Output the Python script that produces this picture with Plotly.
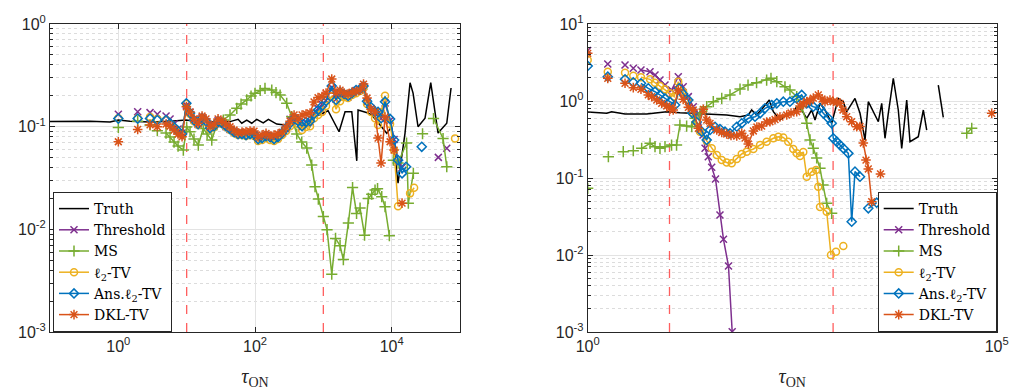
import plotly.graph_objects as go

# ---------------- data: left panel ----------------
L_TRUTH_X = [0.1, 0.196, 0.385, 0.757, 1.0, 1.48, 2.91, 5.71, 9.8, 15.7,
             43.1, 56.5, 64, 75.7, 89.6, 106, 132, 157, 208, 275,
             345, 639, 757, 1173, 1698, 2080, 2606, 3085, 3222, 4511,
             5108, 6758, 8472, 10020, 12390, 15690, 18580, 20560, 24320, 30790,
             37320, 47750, 64000, 73960]
L_TRUTH_Y = [0.112, 0.112, 0.113, 0.111, 0.116, 0.113, 0.111, 0.113, 0.116, 0.111,
             0.112, 0.118, 0.108, 0.116, 0.108, 0.118, 0.109, 0.118, 0.106, 0.104,
             0.108, 0.0998, 0.125, 0.143, 0.0892, 0.140, 0.140, 0.0465, 0.145, 0.136,
             0.130, 0.104, 0.0861, 0.0998, 0.0282, 0.0866, 0.268, 0.212, 0.0998, 0.121,
             0.268, 0.0866, 0.108, 0.238]

L_X = [1, None, 1.92, None, 2.91, None, 3.72, None, 4.99,
       5.71, 6.54, 7.48, 8.56, 9.9, 11.2, 12.8, 14.7, 16.8, 19.2,
       22.0, 25.2, 28.8, 32.9, 37.7, 43.1, 49.4, 56.5, 64.6, 73.9,
       84.6, 96.8, 111, 127, 145, 166, 190, 217, 249, 285,
       326, 373, 427, 488, 558, 639, 731, 837, 958, 1096,
       1328, 1535, 1757, 2010, 2301, 2632, 3013, 3447, 3875, 4363,
       4990, 5711, 6322, 6998, 8000, 9472, 10840, 12400, 14190, 16240]

L_THR_Y = [0.132, None, 0.140, None, 0.137, None, 0.132, None, 0.127,
           0.119, 0.106, 0.0948, 0.0867, 0.162, 0.138, 0.117, 0.105, 0.122, 0.112,
           0.098, 0.102, 0.114, 0.107, 0.100, 0.094, 0.089, 0.085, 0.084, 0.083,
           0.085, 0.084, 0.076, 0.078, 0.082, 0.080, 0.077, 0.080, 0.087, 0.095,
           0.118, 0.122, 0.112, 0.100, 0.110, 0.112, 0.135, 0.150, 0.165, 0.180,
           0.240, 0.185, 0.215, 0.205, 0.195, 0.210, 0.225, 0.230, 0.245, 0.175,
           0.150, 0.140, 0.135, 0.120, 0.170, 0.115, 0.075, 0.045, 0.040, None]
L_THR_EX_X = [48200, None, 64000]
L_THR_EX_Y = [0.0502, None, 0.0615]

L_L2_Y = [0.121, None, 0.121, None, 0.124, None, 0.119, None, 0.116,
          0.106, 0.0969, 0.0886, 0.0829, 0.166, 0.133, 0.113, 0.104, 0.119, 0.111,
          0.0948, 0.0991, 0.111, 0.106, 0.0991, 0.0927, 0.0867, 0.0829, 0.0829, 0.0810,
          0.0829, 0.0810, 0.0724, 0.0740, 0.0774, 0.0740, 0.0724, 0.0757, 0.0829, 0.0906,
          0.101, 0.113, 0.106, 0.0927, 0.0991, 0.101, 0.121, 0.130, 0.139, 0.159,
          0.199, 0.148, 0.177, 0.194, 0.190, 0.203, 0.212, 0.222, 0.238, 0.166,
          0.139, 0.121, 0.104, 0.139, 0.200, 0.106, 0.0591, 0.0168, None, None]
L_L2_EX_X = [18580, 21300, None, 84600]
L_L2_EX_Y = [0.0224, 0.0254, None, 0.0769]

L_ANS_Y = [0.120, None, 0.120, None, 0.120, None, 0.116, None, 0.116,
           0.108, 0.0991, 0.0906, 0.0848, 0.169, 0.136, 0.116, 0.106, 0.121, 0.113,
           0.0969, 0.101, 0.113, 0.108, 0.101, 0.0948, 0.0886, 0.0848, 0.0848, 0.0829,
           0.0848, 0.0848, 0.0757, 0.0774, 0.0810, 0.0792, 0.0757, 0.0792, 0.0867, 0.0969,
           0.108, 0.121, 0.113, 0.101, 0.111, 0.113, 0.133, 0.145, 0.159, 0.178,
           0.249, 0.182, 0.217, 0.208, 0.199, 0.212, 0.227, 0.232, 0.249, 0.177,
           0.155, 0.139, 0.139, 0.121, 0.175, 0.119, 0.0740, 0.0472, 0.0351, 0.0407]
L_ANS_EX_X = [27560]
L_ANS_EX_Y = [0.0637]

L_DKL_Y = [0.0713, None, 0.0941, None, 0.104, None, 0.0998, None, 0.106,
           0.101, 0.0927, 0.0848, 0.0797, 0.156, 0.139, 0.119, 0.108, 0.127, 0.119,
           0.101, 0.106, 0.119, 0.113, 0.106, 0.0998, 0.0927, 0.0873, 0.0886, 0.0892,
           0.0906, 0.0906, 0.0797, 0.0829, 0.0861, 0.0810, 0.0829, 0.0848, 0.0886, 0.0991,
           0.113, 0.130, 0.119, 0.130, 0.133, 0.136, 0.174, 0.192, 0.196, 0.212,
           0.291, 0.212, 0.227, 0.212, 0.208, 0.217, 0.220, 0.227, 0.260, 0.190,
           0.148, 0.139, 0.0774, 0.0442, 0.124, 0.0713, 0.0591, None, 0.0180, None]

L_MS_X = [1, None, 1.92, None, 2.91, None, 3.72, None, 4.99, 5.71, 6.54, 7.48, 8.94,
          10.0, 11.2, 12.8, 14.8, 17.5, 19.9, 23.3, 27.5, 34.4, 43.1,
          54.1, 62.5, 75.7, 87.5, 100, 119, 140, 176, 203, 233,
          291, 345, 408, 483, 572, 676, 756, 845, 1000, 1133,
          1328, 1509, 1757, 1964, 2323, 2677, 3064, 3447, 4009, 4558,
          5109, 5711, 6212, 7157, 8000, 9252, None, 10580, 12400, 16510,
          17540, 20760, None, 28300, None, 41000, 56500, 64000]
L_MS_Y = [0.0984, None, 0.113, None, 0.104, None, 0.0912, None, 0.0867, 0.0792, 0.0708, 0.0647, 0.0591,
          0.0991, 0.0892, 0.0757, 0.0662, 0.0962, 0.0848, 0.0740, 0.104, 0.116, 0.130,
          0.151, 0.166, 0.182, 0.199, 0.211, 0.225, 0.236, 0.227, 0.215, 0.203,
          0.169, 0.125, 0.0848, 0.0708, 0.0619, 0.0423, 0.0260, 0.0197, 0.0133, 0.00993,
          0.00366, 0.00815, 0.00693, 0.00507, 0.0115, 0.0255, 0.0143, 0.0161, 0.00878, 0.0200,
          0.0220, 0.0241, 0.0249, 0.0208, 0.0166, 0.00868, None, 0.0472, 0.0442, 0.0692,
          0.0180, 0.0351, None, 0.0853, None, 0.120, 0.0766, 0.0407]

# ---------------- data: right panel ----------------
R_TRUTH_X = [1, 1.71, 1.96, 2.86, 5.26, 9.25, 13.4, 23.6, 37.8, 50.1,
             72.8, 91.9, 101, 116, 134, 166, 186, 224, 271, 326,
             359, 413, 476, 547, 601, 692, 796, 961, 1158, 1333,
             1467, 1852, 2133, 2456, 2694, 3099, 3573, 3928, 4310, 4729,
             5444, 6266, 6898, 7940, 8713, 11000, 12680, 13940, None, 19330, 22230]
R_TRUTH_Y = [0.720, 0.692, 0.726, 0.678, 0.678, 0.726, 0.705, 0.678, 0.658, 0.658,
             0.625, 0.658, 0.764, 0.658, 0.780, 1.03, 0.726, 0.566, 0.658, 0.726,
             0.843, 0.764, 0.596, 0.764, 0.566, 0.933, 0.764, 0.513, 1.08, 0.979,
             0.726, 1.08, 0.692, 0.312, 0.979, 0.726, 0.538, 0.933, 0.328, 0.692,
             1.97, 0.764, 0.243, 1.03, 0.296, 0.344, 0.764, 0.420, None, 1.61, 0.614]

R_THR_X = [1, None, 1.76, None, 2.86, None, 3.61, None,
           4.48, 5.78, 6.65, 7.65, 8.81, 10.6, 12.8, 14.7, 17.0, 19.5,
           22.5, 25.7, 27.2, 29.8, 32.8, 36.5, 41.4, 45.7, 52.6, 58.4]
R_THR_Y = [4.53, None, 3.03, None, 2.94, None, 2.66, None,
           2.53, 2.40, 2.18, 1.87, 1.61, 1.39, 2.07, 1.53, 1.14, 0.843,
           0.692, 0.362, 0.243, 0.189, 0.138, 0.0970, 0.0330, 0.0160, 0.00719, 0.00101]

R_MS_X = [1, None, 1.79, None, 2.72, None, 3.61, None,
          4.57, 5.78, 6.65, 7.65, 8.81, 10.6, 12.2, 13.4, 16.2, 18.7,
          20.5, 23.6, 28.5, 34.3, 43.5, 54.9, 72.8, 91.2, 116, 154,
          174, 205, 258, 297, 359, 413, 476, 522, 573, 630,
          692, 753, 835, 961, None, 43000, 49500]
R_MS_Y = [0.0735, None, 0.189, None, 0.220, None, 0.226, None,
          0.243, 0.282, 0.255, 0.243, 0.255, 0.268, 0.268, 0.488, 0.473, 0.463,
          0.596, 0.698, 0.843, 0.979, 1.08, 1.20, 1.43, 1.61, 1.73, 1.87,
          1.97, 1.78, 1.53, 1.39, 1.14, 0.843, 0.513, 0.312, 0.243, 0.182,
          0.134, 0.0811, 0.0469, 0.0348, None, 0.381, 0.442]

R_L2_X = [1, None, 1.76, None, 2.86, None, 3.61, None,
          4.48, 5.78, 6.65, 7.65, 8.81, 10.1, 11.4, 12.8, 14.7, 16.7,
          18.8, 21.1, 23.6, 28.5, 32.8, 37.8, 43.5, 50.0, 57.6, 66.4,
          76.4, 87.9, 106, 128, 154, 186, 214, 246, 283, 326,
          359, 394, 432, 476, 547, 618, 659, 692, 835, 942,
          None, 1084, None, 1333]
R_L2_Y = [3.41, None, 2.40, None, 2.33, None, 2.13, None,
          2.03, 1.91, 1.73, 1.57, 1.42, 1.26, 1.14, 1.78, 1.32, 1.03,
          0.720, 0.533, 0.399, 0.303, 0.243, 0.199, 0.171, 0.159, 0.155, 0.177,
          0.205, 0.220, 0.238, 0.268, 0.296, 0.328, 0.344, 0.336, 0.296, 0.238,
          0.209, 0.193, 0.218, 0.104, 0.121, 0.127, 0.0771, 0.0420, 0.0365, 0.0100,
          None, 0.0110, None, 0.0131]

R_ANS_X = [1, None, 1.76, None, 2.86, None, 3.61, None,
           4.48, 5.50, 6.65, 7.65, 8.81, 10.1, 11.7, 13.1, 14.7, 17.0,
           19.0, 21.5, 24.8, 28.5, 31.3, 36.0, 41.4, 47.7, 54.9, 66.4,
           76.4, 91.9, 111, 128, 147, 178, 205, 246, 297, 359,
           413, 476, 573, 692, 759, 874, 961, 1005, 1107, 1214,
           1333, 1535, 1688, 1852, 2133, None, 2694, 3411]
R_ANS_Y = [2.85, None, 2.07, None, 1.91, None, 1.75, None,
           1.70, 1.46, 1.32, 1.20, 1.08, 0.979, 0.887, 1.46, 1.23, 1.03,
           0.698, 0.533, 0.399, 0.312, 0.420, 0.463, 0.433, 0.399, 0.381, 0.463,
           0.513, 0.596, 0.625, 0.692, 0.803, 0.887, 0.933, 0.979, 0.979, 1.08,
           1.20, 0.933, 0.843, 0.803, 0.692, 0.596, 0.513, 0.328, 0.296, 0.268,
           0.243, 0.209, 0.0271, 0.121, 0.104, None, 0.0404, 0.0478]

R_DKL_X = [1, None, 1.76, None, 2.86, None, 3.61, None,
           4.48, 5.50, 6.06, 6.98, 8.03, 9.24, 10.1, 11.1, 12.8, 14.7,
           17.0, 19.5, 22.5, 25.9, 28.5, 31.3, 37.8, 43.5, 50.0, 56.5,
           66.4, 76.4, 83.8, 91.9, 106, 117, 134, 154, 169, 195,
           224, 271, 306, 359, 394, 432, 476, 522, 573, 659,
           732, 796, 916, 1005, 1117, 1214, 1321, 1467, 1688, 1944,
           2133, 2340, 2524, 2694, 2963, None, 3796, None, 86900]
R_DKL_Y = [4.16, None, 1.97, None, 1.70, None, 1.49, None,
           1.42, 1.20, 1.14, 1.03, 0.933, 0.861, 0.811, 0.764, 1.39, 1.05,
           0.828, 0.764, 0.442, 0.780, 0.566, 0.513, 0.420, 0.390, 0.373, 0.356,
           0.351, 0.381, 0.330, 0.276, 0.408, 0.459, 0.473, 0.533, 0.538, 0.575,
           0.619, 0.658, 0.698, 0.726, 0.861, 0.914, 0.986, 1.01, 1.09, 1.20,
           1.06, 0.979, 1.03, 0.979, 0.971, 0.933, 0.764, 0.625, 0.538, 0.463,
           0.466, 0.285, 0.171, 0.131, 0.0492, None, 0.113, None, 0.692]

# reference lines (tau values) and tick labels
VLINES = [10, 1000]
L_XTICKS = [1, 100, 10000]
L_XTEXT = ["10<sup>0</sup>", "10<sup>2</sup>", "10<sup>4</sup>"]
R_XTICKS = [1, 100000]
R_XTEXT = ["10<sup>0</sup>", "10<sup>5</sup>"]
L_YTICKS = [0.001, 0.01, 0.1, 1]
L_YTEXT = ["10<sup>-3</sup>", "10<sup>-2</sup>", "10<sup>-1</sup>", "10<sup>0</sup>"]
R_YTICKS = [0.001, 0.01, 0.1, 1, 10]
R_YTEXT = ["10<sup>-3</sup>", "10<sup>-2</sup>", "10<sup>-1</sup>", "10<sup>0</sup>", "10<sup>1</sup>"]

NAMES = ["Truth", "Threshold", "MS", "ℓ<sub>2</sub>-TV", "Ans.ℓ<sub>2</sub>-TV", "DKL-TV"]

# ---------------- styling ----------------
C_THR = "#7E2F8E"
C_MS = "#77AC30"
C_L2 = "#EDB120"
C_ANS = "#0072BD"
C_DKL = "#D95319"
RED = "rgba(255,40,40,0.75)"
LW = 1.5

fig = go.Figure()


def add_series(x, y, name, color, symbol, size, xa, ya, legend):
    fig.add_trace(go.Scatter(
        x=x, y=y, name=name, mode="lines+markers", xaxis=xa, yaxis=ya, legend=legend,
        connectgaps=False,
        line=dict(color=color, width=LW),
        marker=dict(symbol=symbol, size=size, color=color,
                    line=dict(color=color, width=1.5)),
    ))


for xa, ya, ytop in [("x", "y", 1), ("x2", "y2", 10)]:
    for v in VLINES:
        fig.add_trace(go.Scatter(x=[v, v], y=[0.001, ytop], mode="lines", xaxis=xa, yaxis=ya,
                                 showlegend=False, hoverinfo="skip",
                                 line=dict(color=RED, width=1.3, dash="dash")))

# left panel
fig.add_trace(go.Scatter(x=L_TRUTH_X, y=L_TRUTH_Y, name=NAMES[0], mode="lines",
                         xaxis="x", yaxis="y", legend="legend",
                         line=dict(color="black", width=LW)))
add_series(L_X + [None] + L_THR_EX_X, L_THR_Y + [None] + L_THR_EX_Y, NAMES[1], C_THR,
           "x-thin-open", 7, "x", "y", "legend")
add_series(L_MS_X, L_MS_Y, NAMES[2], C_MS, "cross-thin-open", 8, "x", "y", "legend")
add_series(L_X + [None] + L_L2_EX_X, L_L2_Y + [None] + L_L2_EX_Y, NAMES[3], C_L2,
           "circle-open", 7, "x", "y", "legend")
add_series(L_X + [None] + L_ANS_EX_X, L_ANS_Y + [None] + L_ANS_EX_Y, NAMES[4], C_ANS,
           "diamond-open", 7, "x", "y", "legend")
add_series(L_X, L_DKL_Y, NAMES[5], C_DKL, "asterisk-open", 8, "x", "y", "legend")

# right panel
fig.add_trace(go.Scatter(x=R_TRUTH_X, y=R_TRUTH_Y, name=NAMES[0], mode="lines",
                         xaxis="x2", yaxis="y2", legend="legend2",
                         line=dict(color="black", width=LW)))
add_series(R_THR_X, R_THR_Y, NAMES[1], C_THR, "x-thin-open", 7, "x2", "y2", "legend2")
add_series(R_MS_X, R_MS_Y, NAMES[2], C_MS, "cross-thin-open", 8, "x2", "y2", "legend2")
add_series(R_L2_X, R_L2_Y, NAMES[3], C_L2, "circle-open", 7, "x2", "y2", "legend2")
add_series(R_ANS_X, R_ANS_Y, NAMES[4], C_ANS, "diamond-open", 7, "x2", "y2", "legend2")
add_series(R_DKL_X, R_DKL_Y, NAMES[5], C_DKL, "asterisk-open", 8, "x2", "y2", "legend2")

W, H = 1014, 390
AXC = "#262626"
GRID = "#e3e3e3"
MGRID = "#dcdcdc"
TICKFONT = dict(family="Liberation Sans, Arial, sans-serif", size=16, color="#262626")


def minor_vals(lo, hi):
    return [m * 10 ** k for k in range(lo, hi) for m in range(2, 10)]


def xaxis(domain, rng, tv, tt, anchor):
    return dict(type="log", domain=domain, range=rng, anchor=anchor, automargin=False,
                tickmode="array", tickvals=tv, ticktext=tt,
                ticks="inside", ticklen=5, tickcolor=AXC, ticklabelstandoff=0,
                ticklabeloverflow="allow",
                showline=True, linecolor=AXC, linewidth=1, mirror="ticks",
                showgrid=True, gridcolor=GRID, gridwidth=1,
                zeroline=False, tickfont=TICKFONT,
                title=dict(text="<i>τ</i><sub>ON</sub>", standoff=14,
                           font=dict(family="Liberation Serif, serif", size=20, color="#262626")))


def yaxis(domain, rng, tv, tt, anchor, lo, hi):
    return dict(type="log", domain=domain, range=rng, anchor=anchor, automargin=False,
                tickmode="array", tickvals=tv, ticktext=tt,
                ticks="inside", ticklen=5, tickcolor=AXC,
                showline=True, linecolor=AXC, linewidth=1, mirror="ticks",
                showgrid=True, gridcolor=GRID, gridwidth=1,
                zeroline=False, tickfont=TICKFONT,
                minor=dict(tickmode="array", tickvals=minor_vals(lo, hi),
                           ticks="inside", ticklen=3, tickcolor=AXC,
                           showgrid=True, gridcolor=MGRID, griddash="dot", gridwidth=1))


YD = [58 / H, 366 / H]
LEG = dict(bgcolor="white", bordercolor=AXC, borderwidth=1,
           font=dict(family="DejaVu Serif, serif", size=14, color="black"),
           xref="paper", yref="paper", tracegroupgap=0, itemwidth=30)

fig.update_layout(
    width=W, height=H, margin=dict(l=0, r=0, t=0, b=0, autoexpand=False),
    paper_bgcolor="white", plot_bgcolor="white",
    xaxis=xaxis([50 / W, 460 / W], [-1, 5], L_XTICKS, L_XTEXT, "y"),
    yaxis=yaxis(YD, [-3, 0], L_YTICKS, L_YTEXT, "x", -3, 0),
    xaxis2=xaxis([587.7 / W, 996.7 / W], [0, 5], R_XTICKS, R_XTEXT, "y2"),
    yaxis2=yaxis(YD, [-3, 1], R_YTICKS, R_YTEXT, "x2", -3, 1),
    legend=dict(LEG, x=53 / W, y=YD[0], xanchor="left", yanchor="bottom"),
    legend2=dict(LEG, x=996.7 / W, y=YD[0], xanchor="right", yanchor="bottom"),
    showlegend=True,
)

# remove the default 8px page margin so the 1014x390 figure fills the window
fig.write_html("out.html", config={"displayModeBar": False},
               post_script="document.body.style.margin='0';")
